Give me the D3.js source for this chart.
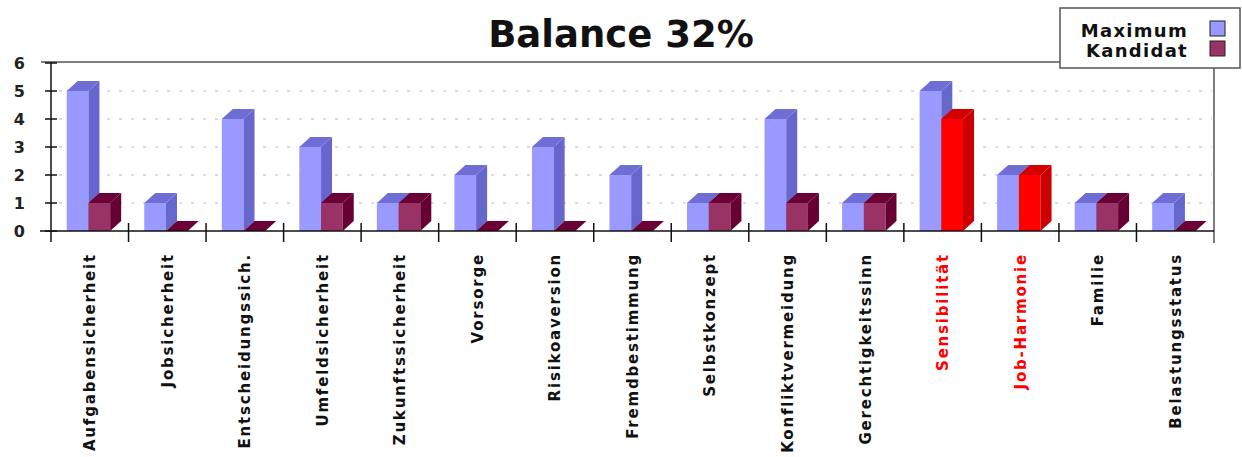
<!DOCTYPE html>
<html>
<head>
<meta charset="utf-8">
<script src="https://cdn.jsdelivr.net/npm/d3@7"></script>
<style>
  body { margin: 0; background: #fff; }
  svg { display: block; font-family: "DejaVu Sans", Verdana, sans-serif; }
</style>
</head>
<body>
<div id="chart"></div>
<script>
// data
const categories = ["Aufgabensicherheit", "Jobsicherheit", "Entscheidungssich.", "Umfeldsicherheit",
  "Zukunftssicherheit", "Vorsorge", "Risikoaversion", "Fremdbestimmung", "Selbstkonzept",
  "Konfliktvermeidung", "Gerechtigkeitssinn", "Sensibilität", "Job-Harmonie", "Familie", "Belastungsstatus"];
const maximum  = [5, 1, 4, 3, 1, 2, 3, 2, 1, 4, 1, 5, 2, 1, 1];
const kandidat = [1, 0, 0, 1, 1, 0, 0, 0, 1, 1, 1, 4, 2, 1, 0];
const highlighted = ["Sensibilität", "Job-Harmonie"];
const yTicks = [0, 1, 2, 3, 4, 5, 6];
const seriesNames = ["Maximum", "Kandidat"];

const W = 1242, H = 457;
const pLeft = 51, pRight = 1214, pTop = 63, pBottom = 231;
const dx = 11, dy = 10;

const colMax = { front: "#9999ff", side: "#6666cc", top: "#6e6ed6" };
const colKan = { front: "#993366", side: "#660033", top: "#6a0035" };
const colRed = { front: "#ff0000", side: "#cc0000", top: "#d40000" };

const svg = d3.select("#chart").append("svg").attr("width", W).attr("height", H);

const x = d3.scaleBand().domain(categories).range([pLeft, pRight]).paddingInner(0).paddingOuter(0);
const y = d3.scaleLinear().domain([0, 6]).range([pBottom, pTop]);

// grid
svg.append("g").selectAll("line").data(yTicks.filter(d => d > 0 && d < 6)).enter().append("line")
  .attr("x1", pLeft + 8).attr("x2", pRight - 2)
  .attr("y1", d => y(d)).attr("y2", d => y(d))
  .attr("stroke", "#bbbbbb").attr("stroke-width", 1).attr("stroke-dasharray", "3,9");

// frame lines (top and right)
svg.append("line").attr("x1", 41).attr("x2", 1060).attr("y1", pTop - 1).attr("y2", pTop - 1)
  .attr("stroke", "#555").attr("stroke-width", 1.5);
svg.append("line").attr("x1", pRight).attr("x2", pRight).attr("y1", 68).attr("y2", pBottom + 12)
  .attr("stroke", "#555").attr("stroke-width", 1.5);

// 3d bars
const bw = x.bandwidth() * 0.28;
const off = x.bandwidth() * 0.203;

function bar3d(g, x0, v, col) {
  const y0 = y(0), y1 = y(v);
  if (v > 0) {
    g.append("rect").attr("x", x0).attr("y", y1).attr("width", bw).attr("height", y0 - y1).attr("fill", col.front);
    g.append("path").attr("fill", col.side)
      .attr("d", `M${x0 + bw},${y1}L${x0 + bw + dx},${y1 - dy}L${x0 + bw + dx},${y0 - dy}L${x0 + bw},${y0}Z`);
  }
  g.append("path").attr("fill", col.top)
    .attr("d", `M${x0},${y1}L${x0 + dx},${y1 - dy}L${x0 + bw + dx},${y1 - dy}L${x0 + bw},${y1}Z`);
}

const bars = svg.append("g");
categories.forEach((c, i) => {
  const x0 = x(c) + off;
  bar3d(bars, x0, maximum[i], colMax);
  bar3d(bars, x0 + bw, kandidat[i], highlighted.includes(c) ? colRed : colKan);
});

// axes
const axis = svg.append("g").attr("stroke", "#111").attr("stroke-width", 1.5);
axis.append("line").attr("x1", 40).attr("x2", pRight).attr("y1", pBottom).attr("y2", pBottom);
axis.append("line").attr("x1", pLeft).attr("x2", pLeft).attr("y1", pTop - 1).attr("y2", pBottom + 11);
axis.selectAll(".yt").data(yTicks).enter().append("line")
  .attr("x1", pLeft - 6).attr("x2", pLeft + 6).attr("y1", d => y(d)).attr("y2", d => y(d));
axis.selectAll(".xt").data(categories.slice(1)).enter().append("line")
  .attr("x1", d => x(d)).attr("x2", d => x(d)).attr("y1", pBottom - 8).attr("y2", pBottom + 11);

svg.append("g").selectAll("text").data(yTicks).enter().append("text")
  .attr("x", 25).attr("y", d => y(d)).attr("dy", "0.36em")
  .attr("text-anchor", "end").attr("font-size", 16).attr("font-weight", "bold")
  .attr("fill", "#222").text(d => d);

// category labels
svg.append("g").selectAll("text").data(categories).enter().append("text")
  .attr("transform", d => `translate(${x(d) + x.bandwidth() / 2},253) rotate(-90)`)
  .attr("dy", "0.36em").attr("text-anchor", "end")
  .attr("font-size", 15).attr("font-weight", "bold").attr("letter-spacing", 1.8)
  .attr("fill", d => highlighted.includes(d) ? "#ff0000" : "#111").text(d => d);

// title
svg.append("text").attr("x", W / 2).attr("y", 47).attr("text-anchor", "middle")
  .attr("font-size", 37).attr("font-weight", "bold").attr("fill", "#111").text("Balance 32%");

// legend
const lg = svg.append("g");
lg.append("rect").attr("x", 1060).attr("y", 8).attr("width", 180).attr("height", 60)
  .attr("fill", "#fff").attr("stroke", "#555").attr("stroke-width", 1.5);
const legendCols = [colMax.front, colKan.front];
seriesNames.forEach((s, i) => {
  lg.append("text").attr("x", 1188).attr("y", 37 + i * 20).attr("text-anchor", "end")
    .attr("font-size", 18).attr("font-weight", "bold").attr("letter-spacing", 1.3)
    .attr("fill", "#111").text(s);
  lg.append("rect").attr("x", 1210).attr("y", 21 + i * 20).attr("width", 15).attr("height", 15)
    .attr("fill", legendCols[i]).attr("stroke", "#222").attr("stroke-width", 1);
});
</script>
</body>
</html>
